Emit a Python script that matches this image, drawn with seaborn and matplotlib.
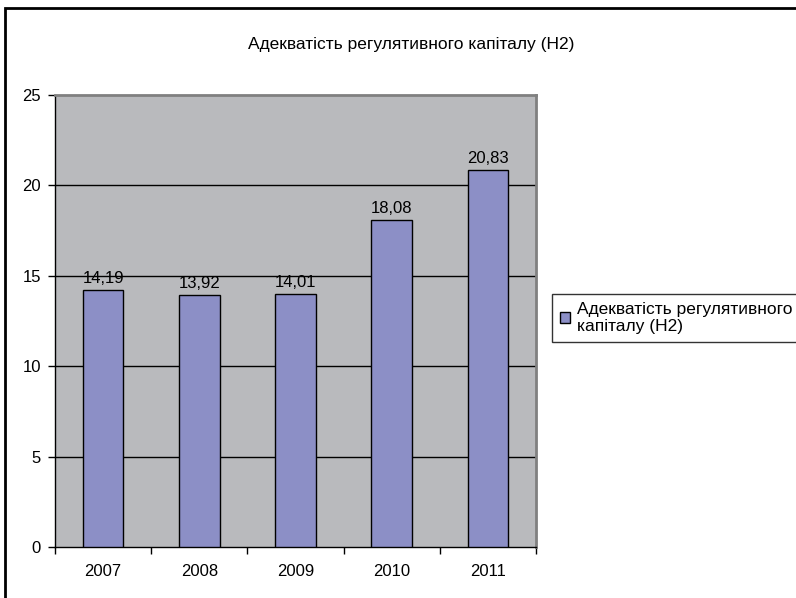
import matplotlib
matplotlib.use("Agg")
import matplotlib.pyplot as plt
import seaborn as sns
import pandas as pd
from matplotlib.patches import Rectangle

years = ["2007", "2008", "2009", "2010", "2011"]
values = [14.19, 13.92, 14.01, 18.08, 20.83]
legend_label = "Адекватість регулятивного\nкапіталу (Н2)"
title = "Адекватість регулятивного капіталу (Н2)"

sns.set_theme(style="white")
plt.rcParams["font.family"] = ["Liberation Sans", "DejaVu Sans"]
plt.rcParams["text.color"] = "black"
plt.rcParams["xtick.color"] = "black"
plt.rcParams["ytick.color"] = "black"

df = pd.DataFrame({"year": years, "value": values})

fig = plt.figure(figsize=(7.96, 5.98), dpi=100)
ax = fig.add_axes([55 / 796, 1 - 547 / 598, (536 - 55) / 796, (547 - 95) / 598])
ax.set_facecolor("#B9BABD")

sns.barplot(data=df, x="year", y="value", color="#8C8FC6", saturation=1,
            edgecolor="black", linewidth=1.0, width=0.42, ax=ax, label=legend_label,
            zorder=3)

handles, labels = ax.get_legend_handles_labels()
if ax.get_legend() is not None:
    ax.get_legend().remove()

ax.set_ylim(0, 25)
ax.set_xlim(-0.5, len(years) - 0.5)
ax.set_yticks([0, 5, 10, 15, 20, 25])
ax.set_xlabel("")
ax.set_ylabel("")
for y in [5, 10, 15, 20]:
    ax.axhline(y, color="black", linewidth=1.0, zorder=1)

fs = 12
ax.tick_params(axis="y", which="major", direction="out", length=5, width=1,
               color="black", labelsize=fs, pad=5, left=True, labelcolor="black")
ax.tick_params(axis="x", which="major", length=0, labelsize=fs, pad=12, bottom=True,
               labelcolor="black")
ax.set_xticks([i - 0.5 for i in range(len(years) + 1)], minor=True)
ax.tick_params(axis="x", which="minor", direction="out", length=5, width=1,
               color="black", bottom=True)

for s in ["left", "bottom"]:
    ax.spines[s].set_color("black")
    ax.spines[s].set_linewidth(1.0)
for s in ["top", "right"]:
    ax.spines[s].set_color("#808080")
    ax.spines[s].set_linewidth(2.0)

for i, v in enumerate(values):
    ax.annotate(f"{v:.2f}".replace(".", ","), (i, v), xytext=(0, 3),
                textcoords="offset points", ha="center", va="bottom",
                fontsize=fs, color="black", zorder=4)

fig.text(411 / 796, 1 - 45 / 598, title, ha="center", va="center", fontsize=12.5)

leg = fig.legend(handles, labels, loc="upper left",
                 bbox_to_anchor=(552 / 796, 1 - 294 / 598),
                 fontsize=12.5, frameon=True, fancybox=False, borderpad=0.45,
                 handlelength=0.6, handleheight=0.6, handletextpad=0.4,
                 borderaxespad=0, labelspacing=0.3)
leg.get_frame().set_edgecolor("black")
leg.get_frame().set_linewidth(1.0)
leg.get_frame().set_facecolor("white")

fig.patches.append(Rectangle((5 / 796, -0.05), 1.2, 1 - 8 / 598 + 0.05,
                             transform=fig.transFigure, fill=False,
                             edgecolor="black", linewidth=2, zorder=10))

fig.savefig("out.png", dpi=100)
